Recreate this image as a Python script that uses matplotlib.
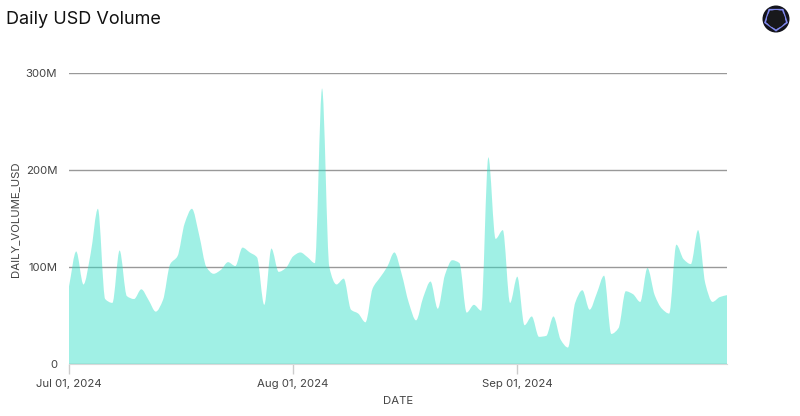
"""Daily USD volume area chart."""

import numpy as np
import pandas as pd
import matplotlib

matplotlib.use("Agg")

from matplotlib import dates as mdates
from matplotlib import pyplot as plt
from matplotlib.patches import Circle, PathPatch, RegularPolygon
from matplotlib.path import Path

plt.rcParams["font.family"] = ["Inter", "DejaVu Sans"]

start_date = "2024-07-01"
daily_volume_m = [
    80, 116, 82, 114, 160, 67, 63, 117, 70, 67, 77, 66, 54, 66, 103, 111, 145, 160, 133, 100,
    93, 97, 105, 101, 120, 115, 110, 61, 119, 95, 99, 111, 115, 110, 104, 284, 100, 82, 88, 56,
    52, 43, 78, 89, 100, 115, 93, 63, 45, 69, 85, 57, 92, 107, 104, 53, 61, 55, 213, 129,
    138, 63, 90, 40, 49, 28, 29, 49, 25, 17, 63, 76, 56, 73, 91, 31, 37, 75, 72, 64,
    99, 71, 57, 52, 123, 108, 103, 138, 83, 64, 69, 71,
]
y_ticks = [0, 100, 200, 300]
y_tick_labels = ["0", "100M", "200M", "300M"]
x_tick_dates = ["2024-07-01", "2024-08-01", "2024-09-01"]

WIDTH, HEIGHT = 800, 416
LABEL_SIZE = 8.2


def monotone_area_path(xs, ys):
    """Closed area outline, smoothed like a d3 monotone-x curve."""
    dx = np.diff(xs)
    slopes = np.diff(ys) / dx
    tangents = np.zeros(len(xs))
    for i in range(1, len(xs) - 1):
        if slopes[i - 1] * slopes[i] > 0:
            tangents[i] = 2 * slopes[i - 1] * slopes[i] / (slopes[i - 1] + slopes[i])
    tangents[0] = slopes[0]
    tangents[-1] = slopes[-1]

    verts = [(xs[0], 0), (xs[0], ys[0])]
    codes = [Path.MOVETO, Path.LINETO]
    for i in range(len(xs) - 1):
        step = dx[i] / 3
        verts += [
            (xs[i] + step, ys[i] + tangents[i] * step),
            (xs[i + 1] - step, ys[i + 1] - tangents[i + 1] * step),
            (xs[i + 1], ys[i + 1]),
        ]
        codes += [Path.CURVE4] * 3
    verts += [(xs[-1], 0), (xs[0], 0)]
    codes += [Path.LINETO, Path.CLOSEPOLY]
    return Path(verts, codes)


dates = pd.date_range(start_date, periods=len(daily_volume_m), freq="D")
date_nums = mdates.date2num(dates)

fig = plt.figure(figsize=(WIDTH / 100, HEIGHT / 100), dpi=100)
ax = fig.add_axes([69 / WIDTH, 1 - 364 / HEIGHT, (727 - 69) / WIDTH, (364 - 73) / HEIGHT])

ax.add_patch(PathPatch(
    monotone_area_path(date_nums, np.array(daily_volume_m, dtype=float)),
    facecolor="#2edfc6", edgecolor="none", alpha=0.45, zorder=3,
))

ax.set_xlim(date_nums[0], date_nums[-1])
ax.set_ylim(0, 300)
ax.set_yticks(y_ticks, y_tick_labels)
ax.set_xticks(mdates.date2num(pd.to_datetime(x_tick_dates)))
ax.xaxis.set_major_formatter(mdates.DateFormatter("%b %d, %Y"))
ax.grid(True, axis="y", color="#999999", linewidth=1.0, zorder=1)
ax.set_axisbelow(True)

for side in ["top", "right", "left"]:
    ax.spines[side].set_visible(False)
ax.spines["bottom"].set_color("#d9d9d9")
ax.spines["bottom"].set_zorder(4)

ax.tick_params(axis="y", length=0, pad=8.5, labelsize=LABEL_SIZE, labelcolor="#444444")
ax.tick_params(axis="x", length=7, width=1, color="#cccccc", pad=4, labelsize=LABEL_SIZE, labelcolor="#444444")
for label in ax.get_yticklabels():
    label.set_y(label.get_position()[1])

fig.text(6 / WIDTH, 1 - 19 / HEIGHT, "Daily USD Volume", fontsize=13, color="#111111",
         ha="left", va="center")
fig.text(398 / WIDTH, 1 - 401 / HEIGHT, "DATE", fontsize=LABEL_SIZE, color="#444444", ha="center", va="center")
fig.text(15.5 / WIDTH, 1 - 219.5 / HEIGHT, "DAILY_VOLUME_USD", fontsize=LABEL_SIZE, color="#444444",
         rotation=90, ha="center", va="center")

# logo, placed in pixels
logo = fig.add_axes([0, 0, 1, 1], facecolor="none")
logo.set_xlim(0, WIDTH)
logo.set_ylim(HEIGHT, 0)
logo.axis("off")
logo.add_patch(Circle((776, 19), 13.5, facecolor="#14141c", edgecolor="none"))
logo.add_patch(RegularPolygon((776, 19), 5, radius=11.5, facecolor="#101014", edgecolor="#8088ee", linewidth=1.2))
logo.add_patch(Circle((776, 19), 9, facecolor="#18181c", edgecolor="none"))

fig.savefig("out.png", dpi=100)
plt.close(fig)
